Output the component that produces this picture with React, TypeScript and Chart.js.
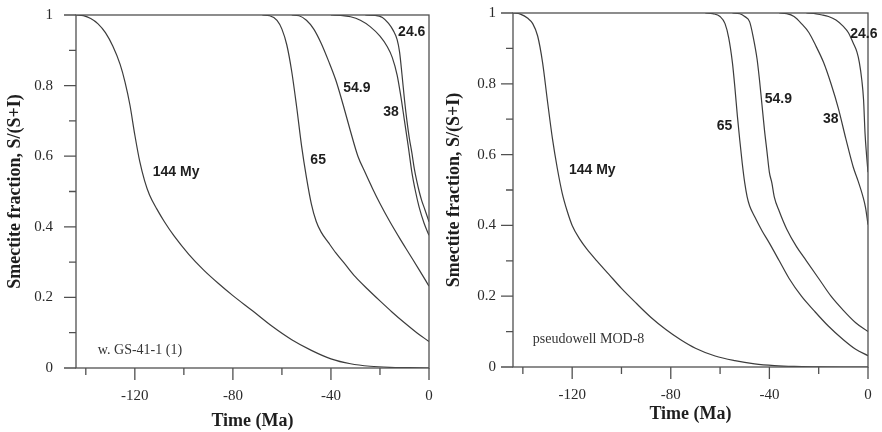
import React, { useEffect, useRef } from "react";
import { Chart, registerables } from "chart.js";

Chart.register(...registerables);

// ---- tick values ----
const xMajorTicks = [-120, -80, -40, 0];
const xMinorTicks = [-140, -100, -60, -20];
const yMajorTicks = [0, 0.2, 0.4, 0.6, 0.8, 1];
const yMinorTicks = [0.1, 0.3, 0.5, 0.7, 0.9];

// ---- left panel: w. GS-41-1 (1) ----
const leftC144X = [-144, -141, -138, -135, -132, -129, -126, -124, -122, -120, -118, -116, -114, -111, -108, -104, -98, -92, -86, -80, -72, -64, -56, -48, -40, -32, -24, -16, -8, 0];
const leftC144Y = [1.0, 0.998, 0.99, 0.975, 0.95, 0.912, 0.86, 0.81, 0.745, 0.66, 0.585, 0.53, 0.49, 0.45, 0.415, 0.374, 0.322, 0.278, 0.24, 0.205, 0.162, 0.118, 0.08, 0.05, 0.026, 0.012, 0.005, 0.002, 0.001, 0.0];
const leftC65X = [-68, -65, -62, -60, -58, -56, -54, -52, -50, -48, -46, -44, -41, -38, -34, -30, -25, -20, -15, -10, -5, 0];
const leftC65Y = [1, 0.998, 0.985, 0.96, 0.915, 0.84, 0.74, 0.63, 0.54, 0.465, 0.415, 0.385, 0.355, 0.326, 0.292, 0.258, 0.223, 0.19, 0.158, 0.128, 0.1, 0.075];
const leftC549X = [-56, -53, -50, -47, -44, -41, -38, -35, -32, -29, -26, -23, -20, -16, -12, -8, -4, 0];
const leftC549Y = [1, 0.998, 0.985, 0.96, 0.92, 0.87, 0.815, 0.745, 0.67, 0.6, 0.553, 0.508, 0.466, 0.415, 0.368, 0.323, 0.278, 0.232];
const leftC38X = [-40, -36, -32, -28, -24, -20, -17, -15, -13, -11.5, -10, -8.5, -7, -5.5, -4, -2, 0];
const leftC38Y = [1, 0.999, 0.995, 0.985, 0.967, 0.94, 0.91, 0.88, 0.83, 0.77, 0.7, 0.63, 0.555, 0.5, 0.455, 0.41, 0.376];
const leftC246X = [-26, -22, -19, -16.5, -14.5, -13, -12, -11, -10, -9, -8, -7, -6, -5, -4, -3, -2, -1, 0];
const leftC246Y = [1, 0.999, 0.993, 0.976, 0.955, 0.93, 0.895, 0.83, 0.76, 0.7, 0.65, 0.61, 0.565, 0.53, 0.5, 0.475, 0.455, 0.435, 0.414];

// ---- right panel: pseudowell MOD-8 ----
const rightC144X = [-144, -141, -138, -136, -134, -132, -130, -128, -126, -124, -122, -120, -117, -114, -110, -105, -100, -94, -88, -82, -76, -70, -62, -54, -46, -38, -30, -20, -10, 0];
const rightC144Y = [1, 0.997, 0.985, 0.97, 0.935, 0.86, 0.75, 0.645, 0.56, 0.49, 0.44, 0.4, 0.362, 0.333, 0.3, 0.261, 0.222, 0.18, 0.14, 0.106, 0.077, 0.053, 0.031, 0.018, 0.009, 0.004, 0.0015, 0.0005, 0, 0];
const rightC65X = [-66, -63, -60, -58, -56.5, -55, -54, -53, -52, -51, -50, -49, -48, -46, -43, -40, -36, -32, -27, -22, -16, -10, -5, 0];
const rightC65Y = [1, 0.998, 0.99, 0.97, 0.93, 0.86, 0.79, 0.71, 0.64, 0.575, 0.52, 0.48, 0.455, 0.425, 0.385, 0.35, 0.3, 0.25, 0.2, 0.16, 0.115, 0.077, 0.05, 0.032];
const rightC549X = [-55, -52, -50, -48, -46.5, -45, -44, -43, -42, -41, -40, -39, -38, -36, -33, -29, -25, -20, -15, -10, -5, 0];
const rightC549Y = [1, 0.998, 0.99, 0.975, 0.93, 0.87, 0.81, 0.74, 0.67, 0.61, 0.55, 0.52, 0.48, 0.44, 0.39, 0.34, 0.3, 0.25, 0.2, 0.16, 0.125, 0.1];
const rightC38X = [-36, -33, -30, -27, -24, -21, -18, -15, -12, -9, -6, -4, -2, -1, 0];
const rightC38Y = [1, 0.998, 0.99, 0.97, 0.945, 0.905, 0.86, 0.8, 0.73, 0.645, 0.565, 0.525, 0.48, 0.45, 0.402];
const rightC246X = [-25, -22, -19, -16, -13, -10, -8, -6, -4.5, -3.5, -2.5, -1.8, -1.2, -0.6, 0];
const rightC246Y = [1, 0.999, 0.995, 0.99, 0.98, 0.962, 0.945, 0.915, 0.89, 0.86, 0.81, 0.755, 0.66, 0.6, 0.55];

// ---- curve labels (text, x in Ma, y fraction) ----
const leftLabelTexts = ["144 My", "65", "54.9", "38", "24.6"];
const leftLabelX = [-112.7, -48.4, -35.0, -18.7, -12.6];
const leftLabelY = [0.555, 0.589, 0.793, 0.725, 0.951];
const rightLabelTexts = ["144 My", "65", "54.9", "38", "24.6"];
const rightLabelX = [-121.3, -61.4, -41.9, -18.3, -7.2];
const rightLabelY = [0.557, 0.679, 0.758, 0.701, 0.939];
const leftNote = "w. GS-41-1 (1)";
const leftNoteX = -135.1;
const leftNoteY = 0.051;
const rightNote = "pseudowell MOD-8";
const rightNoteX = -136.0;
const rightNoteY = 0.077;

const xTitle = "Time (Ma)";
const yTitle = "Smectite fraction, S/(S+I)";

const AXIS_COLOR = "#505050";
const LINE_COLOR = "#3c3c3c";
const SERIF = '"Liberation Serif", "Times New Roman", serif';
const SANS = '"Liberation Sans", Arial, sans-serif';

function zip(xs: number[], ys: number[]) {
  return xs.map((x, i) => ({ x, y: ys[i] }));
}

type PanelProps = {
  curves: { x: number[]; y: number[] }[];
  labels: { t: string[]; x: number[]; y: number[] };
  note: { t: string; x: number; y: number };
  geom: { yAxisW: number; xAxisH: number; padTop: number; padRight: number; yLabelPad: number; xLabelPad: number; xTitlePad: number; yTitlePad: number };
};

function Panel({ curves, labels, note, geom }: PanelProps) {
  const ref = useRef<HTMLCanvasElement | null>(null);
  useEffect(() => {
    const canvas = ref.current!;
    const decor = {
      id: "decor",
      afterDraw(chart: any) {
        const { ctx, chartArea } = chart;
        const xs = chart.scales.x;
        const ys = chart.scales.y;
        const { left, right, top, bottom } = chartArea;
        ctx.save();
        ctx.strokeStyle = AXIS_COLOR;
        ctx.lineWidth = 1.3;
        ctx.strokeRect(left, top, right - left, bottom - top);
        ctx.beginPath();
        xMajorTicks.forEach((v) => {
          const p = xs.getPixelForValue(v);
          ctx.moveTo(p, bottom);
          ctx.lineTo(p, bottom + 12);
        });
        xMinorTicks.forEach((v) => {
          const p = xs.getPixelForValue(v);
          ctx.moveTo(p, bottom);
          ctx.lineTo(p, bottom + 7);
        });
        yMajorTicks.forEach((v) => {
          const p = ys.getPixelForValue(v);
          ctx.moveTo(left - 12, p);
          ctx.lineTo(left, p);
        });
        yMinorTicks.forEach((v) => {
          const p = ys.getPixelForValue(v);
          ctx.moveTo(left - 7, p);
          ctx.lineTo(left, p);
        });
        ctx.stroke();
        ctx.fillStyle = "#1e1e1e";
        ctx.textAlign = "left";
        ctx.textBaseline = "middle";
        ctx.font = "bold 14px " + SANS;
        labels.t.forEach((t, i) => {
          ctx.fillText(t, xs.getPixelForValue(labels.x[i]), ys.getPixelForValue(labels.y[i]));
        });
        ctx.fillStyle = "#333";
        ctx.font = "14px " + SERIF;
        ctx.fillText(note.t, xs.getPixelForValue(note.x), ys.getPixelForValue(note.y));
        ctx.restore();
      },
    };
    const chart = new Chart(canvas, {
      type: "line",
      data: {
        datasets: curves.map((c) => ({
          data: zip(c.x, c.y),
          borderColor: LINE_COLOR,
          borderWidth: 1.2,
          pointRadius: 0,
          fill: false,
          cubicInterpolationMode: "monotone" as const,
        })),
      },
      options: {
        animation: false,
        responsive: false,
        events: [],
        layout: { padding: { left: 0, right: geom.padRight, top: geom.padTop, bottom: 0 } },
        plugins: { legend: { display: false }, tooltip: { enabled: false } },
        scales: {
          x: {
            type: "linear",
            min: -144,
            max: 0,
            afterBuildTicks: (s: any) => {
              s.ticks = xMajorTicks.map((v) => ({ value: v }));
            },
            afterFit: (s: any) => {
              s.height = geom.xAxisH;
              s.paddingLeft = 0;
              s.paddingRight = 0;
              s.paddingTop = 0;
              s.paddingBottom = 0;
            },
            grid: { display: true, drawOnChartArea: false, drawTicks: false },
            border: { display: false },
            ticks: {
              padding: geom.xLabelPad,
              maxRotation: 0,
              autoSkip: false,
              color: "#2a2a2a",
              font: { family: SERIF, size: 15 },
              callback: (v: any) => String(v),
            },
            title: {
              display: true,
              text: xTitle,
              color: "#1e1e1e",
              font: { family: SERIF, size: 18, weight: "bold" },
              padding: { top: 0, bottom: geom.xTitlePad },
            },
          },
          y: {
            type: "linear",
            min: 0,
            max: 1,
            afterBuildTicks: (s: any) => {
              s.ticks = yMajorTicks.map((v) => ({ value: v }));
            },
            afterFit: (s: any) => {
              s.width = geom.yAxisW;
              s.paddingLeft = 0;
              s.paddingRight = 0;
              s.paddingTop = 0;
              s.paddingBottom = 0;
            },
            grid: { display: true, drawOnChartArea: false, drawTicks: false },
            border: { display: false },
            ticks: {
              padding: geom.yLabelPad,
              autoSkip: false,
              color: "#2a2a2a",
              font: { family: SERIF, size: 15 },
              callback: (v: any) => String(Math.round(v * 10) / 10),
            },
            title: {
              display: true,
              text: yTitle,
              color: "#1e1e1e",
              font: { family: SERIF, size: 18, weight: "bold" },
              padding: { top: geom.yTitlePad, bottom: 0 },
            },
          },
        },
      },
      plugins: [decor],
    } as any);
    return () => chart.destroy();
  }, []);
  return <canvas ref={ref} width={441} height={432} style={{ display: "block", width: 441, height: 432 }} />;
}

export default function App() {
  return (
    <div style={{ position: "absolute", left: 0, top: 0, width: 882, height: 432, display: "flex", background: "#fff" }}>
      <Panel
        curves={[
          { x: leftC144X, y: leftC144Y },
          { x: leftC65X, y: leftC65Y },
          { x: leftC549X, y: leftC549Y },
          { x: leftC38X, y: leftC38Y },
          { x: leftC246X, y: leftC246Y },
        ]}
        labels={{ t: leftLabelTexts, x: leftLabelX, y: leftLabelY }}
        note={{ t: leftNote, x: leftNoteX, y: leftNoteY }}
        geom={{ yAxisW: 76, xAxisH: 64, padTop: 15, padRight: 12, yLabelPad: 23, xLabelPad: 19, xTitlePad: 0, yTitlePad: 5 }}
      />
      <Panel
        curves={[
          { x: rightC144X, y: rightC144Y },
          { x: rightC65X, y: rightC65Y },
          { x: rightC549X, y: rightC549Y },
          { x: rightC38X, y: rightC38Y },
          { x: rightC246X, y: rightC246Y },
        ]}
        labels={{ t: rightLabelTexts, x: rightLabelX, y: rightLabelY }}
        note={{ t: rightNote, x: rightNoteX, y: rightNoteY }}
        geom={{ yAxisW: 72, xAxisH: 65, padTop: 13, padRight: 14, yLabelPad: 17, xLabelPad: 19, xTitlePad: 7, yTitlePad: 3 }}
      />
    </div>
  );
}
